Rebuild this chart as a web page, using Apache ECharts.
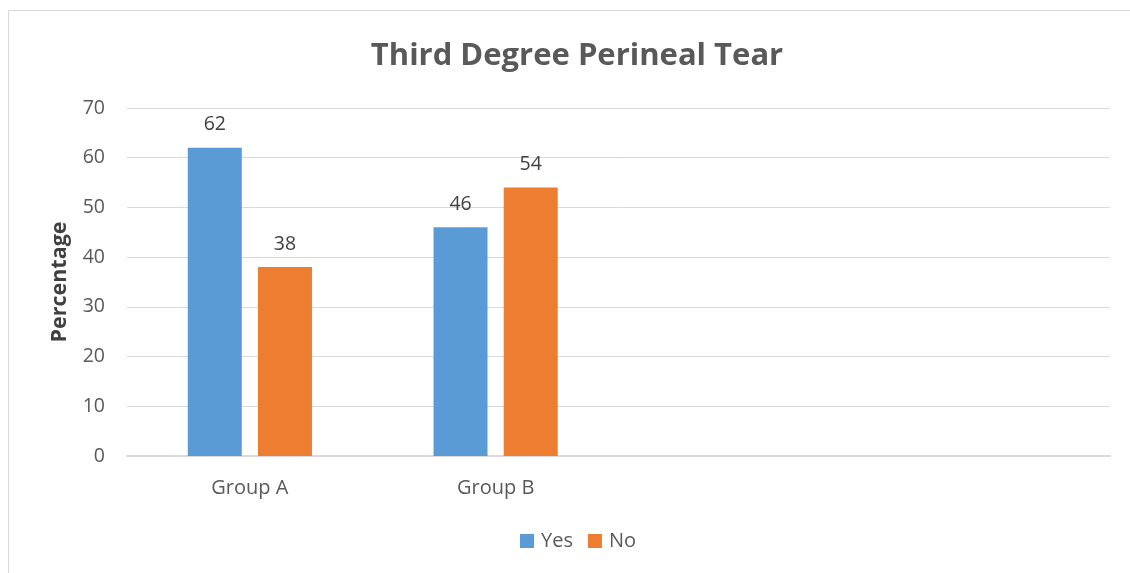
<!DOCTYPE html>
<html><head><meta charset="utf-8">
<script src="https://cdn.jsdelivr.net/npm/echarts@6/dist/echarts.min.js"></script>
<style>
html,body{margin:0;padding:0;background:#fff;}
#frame{position:absolute;left:8px;top:10px;width:1130px;height:573px;border-top:1px solid #d9d9d9;border-left:1px solid #d9d9d9;}
#c{position:absolute;left:0;top:0;width:1130px;height:573px;}
</style></head>
<body>
<div id="frame"></div>
<div id="c"></div>
<script>
const categories = ['Group A', 'Group B', '', ''];
const yesValues = [62, 46, null, null];
const noValues = [38, 54, null, null];
const seriesNames = ['Yes', 'No'];
const yTicks = [0, 10, 20, 30, 40, 50, 60, 70];

const font = '"Open Sans", "Noto Sans", sans-serif';
const chart = echarts.init(document.getElementById('c'), null, {renderer: 'canvas'});
const labelStyle = {show: true, position: 'top', distance: 13, color: '#404040', fontSize: 19.5, fontFamily: font};
chart.setOption({
  animation: false,
  title: {
    text: 'Third Degree Perineal Tear', left: 572, top: 36, textAlign: 'center',
    textStyle: {fontFamily: font, fontSize: 31, fontWeight: 'bold', color: '#595959'}
  },
  legend: {
    data: seriesNames, bottom: 22, left: 520, padding: 0, itemWidth: 14, itemHeight: 14, itemGap: 15,
    icon: 'rect', textStyle: {fontFamily: font, fontSize: 20, color: '#595959', padding: [0, 0, 0, 2]}
  },
  grid: {left: 127, right: 20, top: 108, bottom: 117, containLabel: false},
  xAxis: {
    type: 'category', data: categories,
    axisLine: {lineStyle: {color: '#d9d9d9', width: 2}},
    axisTick: {show: false},
    axisLabel: {fontFamily: font, fontSize: 20, color: '#595959', margin: 22}
  },
  yAxis: {
    type: 'value', min: 0, max: 70, interval: 10,
    name: 'Percentage', nameLocation: 'middle', nameGap: 56, nameRotate: 90,
    nameTextStyle: {fontFamily: font, fontSize: 21.5, fontWeight: 'bold', color: '#404040'},
    axisLabel: {fontFamily: font, fontSize: 19.5, color: '#595959', margin: 22,
      formatter: v => yTicks.includes(v) ? String(v) : ''},
    splitLine: {lineStyle: {color: '#d9d9d9', width: 1}},
    axisLine: {show: false}, axisTick: {show: false}
  },
  series: [
    {name: seriesNames[0], type: 'bar', data: yesValues, barWidth: 54, barGap: '30%',
     itemStyle: {color: '#5b9bd5'}, label: labelStyle},
    {name: seriesNames[1], type: 'bar', data: noValues, barWidth: 54,
     itemStyle: {color: '#ed7d31'}, label: labelStyle}
  ]
});
</script>
</body></html>
